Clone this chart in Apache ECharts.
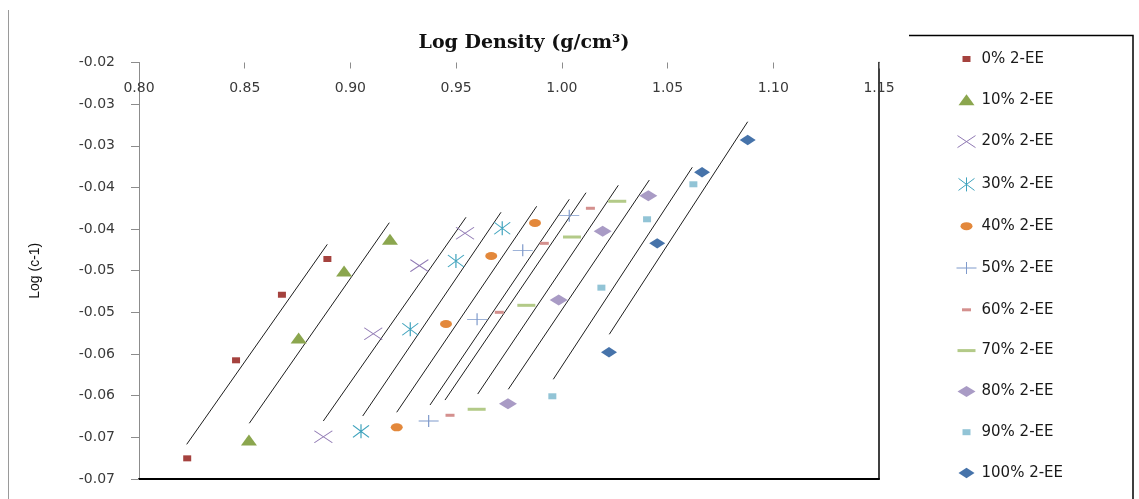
<!DOCTYPE html>
<html>
<head>
<meta charset="utf-8">
<script src="https://cdn.jsdelivr.net/npm/echarts@6/dist/echarts.min.js"></script>
<style>
html,body{margin:0;padding:0;background:#fff;}
#chart{width:1139px;height:499px;}
</style>
</head>
<body>
<div id="chart"></div>
<script>
// ---- data (x = Log Density, y = Log (c-1)) ----
const seriesNames = ['0% 2-EE','10% 2-EE','20% 2-EE','30% 2-EE','40% 2-EE','50% 2-EE','60% 2-EE','70% 2-EE','80% 2-EE','90% 2-EE','100% 2-EE'];
const pts0   = [[0.8891,-0.04359],[0.8676,-0.04788],[0.8459,-0.05575],[0.8228,-0.06752]];
const pts10  = [[0.9187,-0.04122],[0.8970,-0.04503],[0.8755,-0.05307],[0.8520,-0.06532]];
const pts20  = [[0.9542,-0.04050],[0.9326,-0.04439],[0.9108,-0.05256],[0.8872,-0.06492]];
const pts30  = [[0.9718,-0.03990],[0.9499,-0.04383],[0.9283,-0.05203],[0.9050,-0.06428]];
const pts40  = [[0.9873,-0.03927],[0.9666,-0.04323],[0.9452,-0.05139],[0.9219,-0.06380]];
const pts50  = [[1.0035,-0.03839],[0.9815,-0.04255],[0.9599,-0.05083],[0.9370,-0.06304]];
const pts60  = [[1.0135,-0.03750],[0.9917,-0.04171],[0.9704,-0.04999],[0.9471,-0.06235]];
const pts70  = [[1.0262,-0.03666],[1.0048,-0.04095],[0.9832,-0.04915],[0.9597,-0.06163]];
const pts80  = [[1.0409,-0.03599],[1.0193,-0.04026],[0.9985,-0.04851],[0.9745,-0.06096]];
const pts90  = [[1.0622,-0.03462],[1.0403,-0.03882],[1.0187,-0.04703],[0.9955,-0.06007]];
const pts100 = [[1.0879,-0.02930],[1.0663,-0.03318],[1.0451,-0.04171],[1.0223,-0.05479]];

// linear trend lines (start / end points)
const trend0   = [[0.82256,-0.06584],[0.88906,-0.04183]];
const trend10  = [[0.85217,-0.06331],[0.91839,-0.03923]];
const trend20  = [[0.88717,-0.06304],[0.95466,-0.03858]];
const trend30  = [[0.90580,-0.06244],[0.97122,-0.03798]];
const trend40  = [[0.92189,-0.06199],[0.98810,-0.03726]];
const trend50  = [[0.93764,-0.06112],[1.00352,-0.03642]];
const trend60  = [[0.94473,-0.06052],[1.01142,-0.03563]];
const trend70  = [[0.96020,-0.05980],[1.02670,-0.03474]];
const trend80  = [[0.97467,-0.05923],[1.04136,-0.03411]];
const trend90  = [[0.99595,-0.05803],[1.06170,-0.03258]];
const trend100 = [[1.02244,-0.05263],[1.08790,-0.02711]];

const yTickLabels = ['-0.07','-0.07','-0.06','-0.06','-0.05','-0.05','-0.04','-0.04','-0.03','-0.03','-0.02'];
const xTitle = 'Log Density (g/cm\u00B3)';
const yTitle = 'Log (c-1)';

const allPts = [pts0,pts10,pts20,pts30,pts40,pts50,pts60,pts70,pts80,pts90,pts100];
const allTrends = [trend0,trend10,trend20,trend30,trend40,trend50,trend60,trend70,trend80,trend90,trend100];

// marker styles: every path lives in a 20x14 frame so chart markers and legend icons match
const F = 'M0 0M20 14';
const markers = [
  {path: F+'M6 4h8v6h-8z', fill:'#A5423E'},
  {path: F+'M2 12.5L10 1.5L18 12.5z', fill:'#8BA64E'},
  {path: F+'M1 1L19 13M1 13L19 1', stroke:'#8F78B3'},
  {path: F+'M2 1L18 13M2 13L18 1M10 0L10 14', stroke:'#3FA3BD'},
  {path: F+'M4 7a6 4 0 1 0 12 0a6 4 0 1 0 -12 0z', fill:'#E3883B'},
  {path: F+'M0 7L20 7M10 1L10 13', stroke:'#7F9ACB'},
  {path: F+'M5.5 5.5h9v3h-9z', fill:'#D4908E'},
  {path: F+'M1 5.5h18v3h-18z', fill:'#B3CA88'},
  {path: F+'M1 7L10 1.5L19 7L10 12.5z', fill:'#A99BC5'},
  {path: F+'M6 4h8v6h-8z', fill:'#92C4D6'},
  {path: F+'M2 7L10 1.8L18 7L10 12.2z', fill:'#4673AA'}
];

const series = [];
allTrends.forEach(function(t, i){
  series.push({
    name: 'trend' + i, type: 'line', data: t, symbol: 'none', silent: true,
    xAxisIndex: 0, yAxisIndex: 0, z: 2,
    lineStyle: {color: '#1e1e1e', width: 1}
  });
});
allPts.forEach(function(p, i){
  const m = markers[i];
  series.push({
    name: seriesNames[i], type: 'scatter', data: p,
    xAxisIndex: 0, yAxisIndex: 0, z: 3,
    symbol: 'path://' + m.path, symbolSize: [20, 14],
    itemStyle: m.stroke ? {color: 'none', borderColor: m.stroke, borderWidth: 1, opacity: 1}
                        : {color: m.fill, borderWidth: 0, opacity: 1}
  });
});

const legendData = seriesNames.map(function(n, i){
  return markers[i].stroke ? {name: n, itemStyle: {borderWidth: 1}} : {name: n};
});

function yFmt(v){
  const idx = Math.round((v + 0.07) / 0.005);
  return yTickLabels[idx] !== undefined ? yTickLabels[idx] : '';
}

const chart = echarts.init(document.getElementById('chart'), null, {renderer: 'canvas'});
chart.setOption({
  animation: false,
  backgroundColor: '#ffffff',
  grid: {left: 139, right: 260, top: 62.5, bottom: 20, containLabel: false},
  xAxis: [{
    type: 'value', position: 'top', min: 0.8, max: 1.15, interval: 0.05,
    axisLine: {show: false, onZero: false},
    axisTick: {show: true, inside: true, length: 6, lineStyle: {color: '#8c8c8c'}},
    axisLabel: {inside: true, margin: 19, color: '#3a3a3a', fontFamily: 'DejaVu Sans', fontSize: 14,
      formatter: function(v){ return v.toFixed(2); }},
    splitLine: {show: false}
  },{
    type: 'value', position: 'bottom', min: 0.8, max: 1.15,
    axisLine: {show: true, onZero: false, lineStyle: {color: '#000', width: 2}},
    axisTick: {show: false}, axisLabel: {show: false}, splitLine: {show: false}
  }],
  yAxis: [{
    type: 'value', position: 'left', min: -0.07, max: -0.02, interval: 0.005,
    name: yTitle, nameLocation: 'middle', nameRotate: 90, nameGap: 97,
    nameTextStyle: {fontFamily: 'Liberation Sans', fontSize: 14, color: '#111'},
    axisLine: {show: true, onZero: false, lineStyle: {color: '#8c8c8c', width: 1}},
    axisTick: {show: true, inside: false, length: 8, lineStyle: {color: '#8c8c8c'}},
    axisLabel: {margin: 24, color: '#3a3a3a', fontFamily: 'DejaVu Sans', fontSize: 14, formatter: yFmt},
    splitLine: {show: false}
  },{
    type: 'value', position: 'right', min: -0.07, max: -0.02,
    axisLine: {show: true, onZero: false, lineStyle: {color: '#000', width: 1.5}},
    axisTick: {show: false}, axisLabel: {show: false}, splitLine: {show: false}
  }],
  legend: {
    orient: 'vertical', left: 949, top: 45.5,
    itemWidth: 20, itemHeight: 14, itemGap: 23.8,
    data: legendData,
    textStyle: {fontFamily: 'DejaVu Sans', fontSize: 15, lineHeight: 17, color: '#1a1a1a'},
    selectedMode: false
  },
  graphic: [
    {type: 'text', x: 524, y: 43, silent: true,
      style: {text: xTitle, font: 'bold 19px "DejaVu Serif"', fill: '#111', align: 'center', verticalAlign: 'middle', textAlign: 'center', textVerticalAlign: 'middle'}},
    {type: 'polyline', silent: true, shape: {points: [[909, 35.5], [1133, 35.5], [1133, 499]]},
      style: {stroke: '#000', lineWidth: 1.5, fill: null}},
    {type: 'line', silent: true, shape: {x1: 8.5, y1: 10, x2: 8.5, y2: 499},
      style: {stroke: '#9a9a9a', lineWidth: 1}}
  ],
  series: series
});
</script>
</body>
</html>
